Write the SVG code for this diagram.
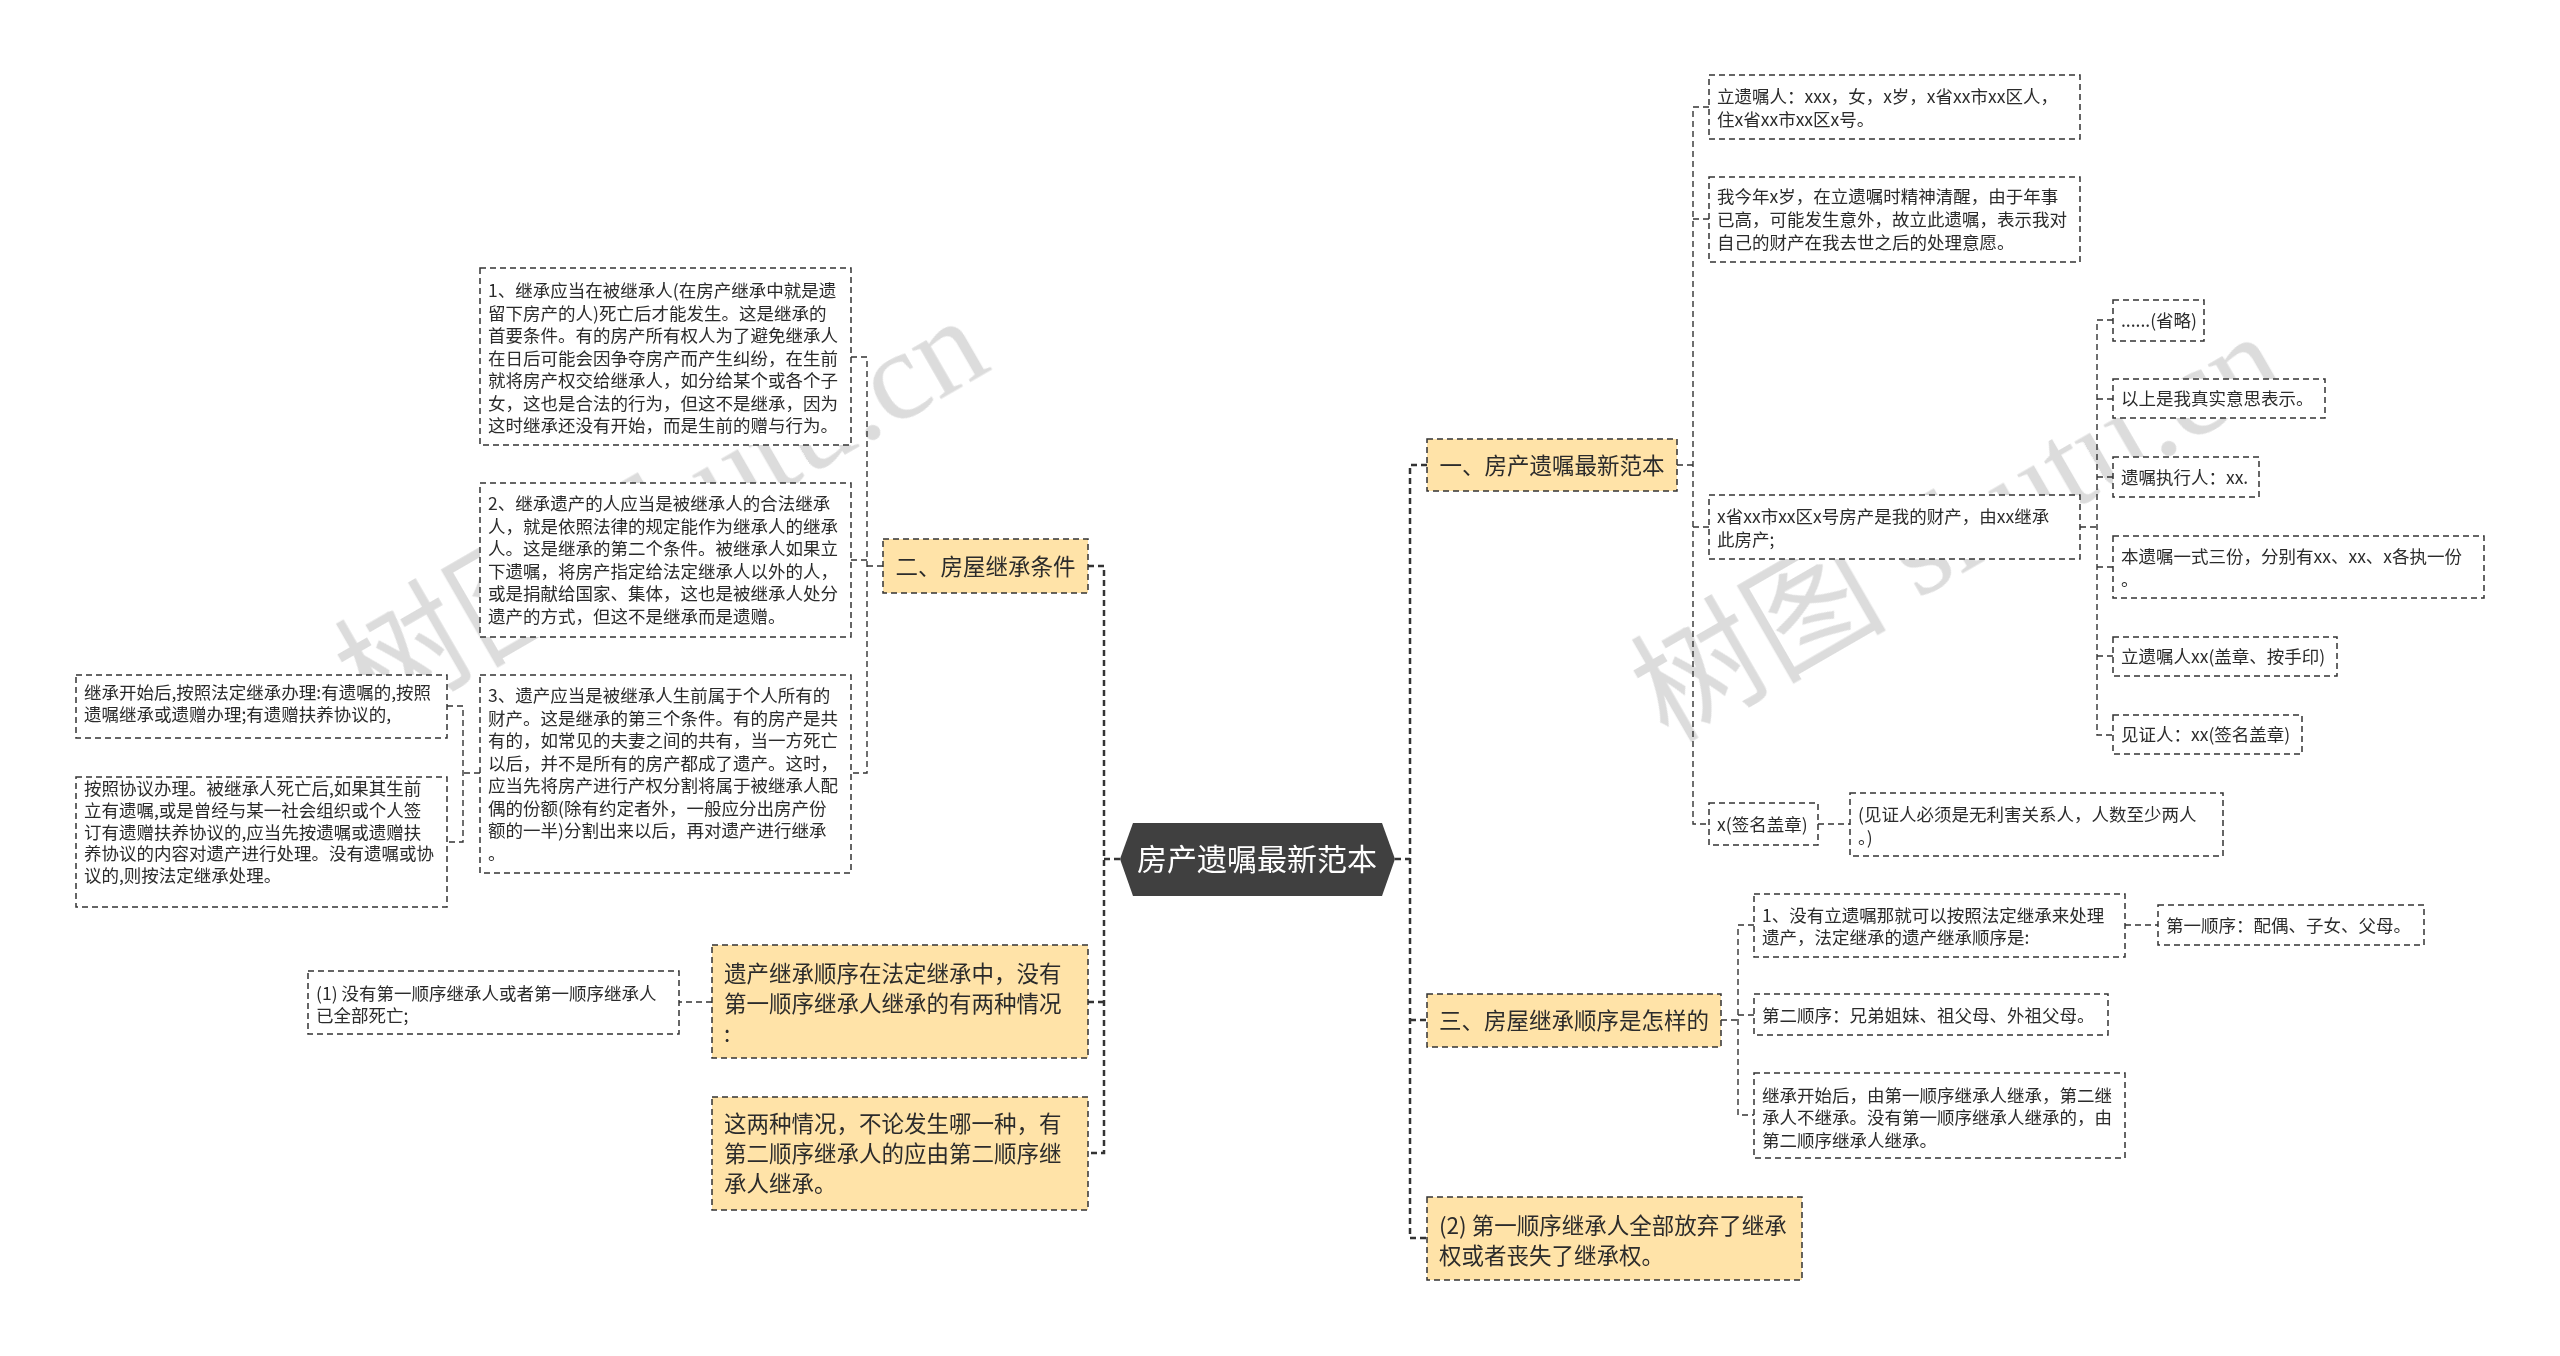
<svg xmlns="http://www.w3.org/2000/svg" width="2560" height="1356" viewBox="0 0 2560 1356">
<style>
.bg{fill:#ffffff}
.box{fill:#ffffff;stroke:#333333;stroke-width:1.5;stroke-dasharray:6 4}
.yel{fill:#FFE3A8;stroke:#333333;stroke-width:1.5;stroke-dasharray:6 4}
.t{font-family:"Noto Sans CJK SC","Noto Sans",sans-serif;font-size:17.5px;fill:#2b2b2b}
.ty{font-family:"Noto Sans CJK SC","Noto Sans",sans-serif;font-size:22.5px;fill:#2b2b2b}
.root{fill:#404040}
.rt{font-family:"Noto Sans CJK SC","Noto Sans",sans-serif;font-size:30px;fill:#ffffff}
.c1{fill:none;stroke:#333333;stroke-width:2.5;stroke-dasharray:6 4}
.c2{fill:none;stroke:#333333;stroke-width:1.4;stroke-dasharray:6 4}
.wm{font-family:"Liberation Serif","Noto Sans CJK SC",serif;font-size:128px;fill:#d6d6d6}
</style>
<rect class="bg" x="0" y="0" width="2560" height="1356"/>
<g id="watermarks" opacity="0.85">
<text class="wm" x="372" y="728" transform="rotate(-30 372 728)">树图 shutu.cn</text>
<text class="wm" x="1668" y="744" transform="rotate(-30 1668 744)">树图 shutu.cn</text>
</g>
<g id="connectors">
<path class="c1" d="M1120 859 H1104 M1088 566 H1104 V1153 H1088 M1088 1002 H1104"/>
<path class="c1" d="M1395 859 H1410 M1427 465 H1410 V1238 H1427 M1410 1020 H1427"/>
<path class="c2" d="M883 566 H867 M851 357 H867 V773 H851 M851 560 H867"/>
<path class="c2" d="M480 773 H463 M447 706 H463 V842 H447"/>
<path class="c2" d="M712 1002 H679"/>
<path class="c2" d="M1677 465 H1693 M1709 107 H1693 V824 H1709 M1693 219 H1709 M1693 527 H1709"/>
<path class="c2" d="M2080 527 H2097 M2113 320 H2097 V735 H2113 M2097 399 H2113 M2097 477 H2113 M2097 567 H2113 M2097 656 H2113"/>
<path class="c2" d="M1818 824 H1850"/>
<path class="c2" d="M1721 1020 H1738 M1754 925 H1738 V1115 H1754 M1738 1015 H1754"/>
<path class="c2" d="M2125 925 H2158"/>
</g>
<g id="root">
<polygon class="root" points="1120,859 1133,823 1382,823 1395,859 1382,896 1133,896"/>
<text class="rt" x="1257" y="870" text-anchor="middle">房产遗嘱最新范本</text>
</g>
<g id="n-er">
<rect class="yel" x="883" y="539" width="205" height="54"/>
<text class="ty" x="985.5" y="574.5" text-anchor="middle">二、房屋继承条件</text>
</g>
<g id="n-cond1">
<rect class="box" x="480" y="268" width="371" height="177"/>
<text class="t" x="488" y="297">
<tspan x="488">1、继承应当在被继承人(在房产继承中就是遗</tspan>
<tspan x="488" dy="22.5">留下房产的人)死亡后才能发生。这是继承的</tspan>
<tspan x="488" dy="22.5">首要条件。有的房产所有权人为了避免继承人</tspan>
<tspan x="488" dy="22.5">在日后可能会因争夺房产而产生纠纷，在生前</tspan>
<tspan x="488" dy="22.5">就将房产权交给继承人，如分给某个或各个子</tspan>
<tspan x="488" dy="22.5">女，这也是合法的行为，但这不是继承，因为</tspan>
<tspan x="488" dy="22.5">这时继承还没有开始，而是生前的赠与行为。</tspan>
</text>
</g>
<g id="n-cond2">
<rect class="box" x="480" y="483" width="371" height="154"/>
<text class="t" x="488" y="510">
<tspan x="488">2、继承遗产的人应当是被继承人的合法继承</tspan>
<tspan x="488" dy="22.5">人，就是依照法律的规定能作为继承人的继承</tspan>
<tspan x="488" dy="22.5">人。这是继承的第二个条件。被继承人如果立</tspan>
<tspan x="488" dy="22.5">下遗嘱，将房产指定给法定继承人以外的人，</tspan>
<tspan x="488" dy="22.5">或是捐献给国家、集体，这也是被继承人处分</tspan>
<tspan x="488" dy="22.5">遗产的方式，但这不是继承而是遗赠。</tspan>
</text>
</g>
<g id="n-cond3">
<rect class="box" x="480" y="675" width="371" height="198"/>
<text class="t" x="488" y="702">
<tspan x="488">3、遗产应当是被继承人生前属于个人所有的</tspan>
<tspan x="488" dy="22.5">财产。这是继承的第三个条件。有的房产是共</tspan>
<tspan x="488" dy="22.5">有的，如常见的夫妻之间的共有，当一方死亡</tspan>
<tspan x="488" dy="22.5">以后，并不是所有的房产都成了遗产。这时，</tspan>
<tspan x="488" dy="22.5">应当先将房产进行产权分割将属于被继承人配</tspan>
<tspan x="488" dy="22.5">偶的份额(除有约定者外，一般应分出房产份</tspan>
<tspan x="488" dy="22.5">额的一半)分割出来以后，再对遗产进行继承</tspan>
<tspan x="488" dy="22.5">。</tspan>
</text>
</g>
<g id="n-a">
<rect class="box" x="76" y="675" width="371" height="63"/>
<text class="t" x="84" y="699">
<tspan x="84">继承开始后,按照法定继承办理:有遗嘱的,按照</tspan>
<tspan x="84" dy="22">遗嘱继承或遗赠办理;有遗赠扶养协议的,</tspan>
</text>
</g>
<g id="n-b">
<rect class="box" x="76" y="777" width="371" height="130"/>
<text class="t" x="84" y="795">
<tspan x="84">按照协议办理。被继承人死亡后,如果其生前</tspan>
<tspan x="84" dy="21.8">立有遗嘱,或是曾经与某一社会组织或个人签</tspan>
<tspan x="84" dy="21.8">订有遗赠扶养协议的,应当先按遗嘱或遗赠扶</tspan>
<tspan x="84" dy="21.8">养协议的内容对遗产进行处理。没有遗嘱或协</tspan>
<tspan x="84" dy="21.8">议的,则按法定继承处理。</tspan>
</text>
</g>
<g id="n-order">
<rect class="yel" x="712" y="945" width="376" height="113"/>
<text class="ty" x="724" y="981.5">
<tspan x="724">遗产继承顺序在法定继承中，没有</tspan>
<tspan x="724" dy="30">第一顺序继承人继承的有两种情况</tspan>
<tspan x="724" dy="30">:</tspan>
</text>
</g>
<g id="n-one">
<rect class="box" x="308" y="971" width="371" height="63"/>
<text class="t" x="316" y="1000">
<tspan x="316">(1) 没有第一顺序继承人或者第一顺序继承人</tspan>
<tspan x="316" dy="22">已全部死亡;</tspan>
</text>
</g>
<g id="n-two-cases">
<rect class="yel" x="712" y="1097" width="376" height="113"/>
<text class="ty" x="724" y="1131.5">
<tspan x="724">这两种情况，不论发生哪一种，有</tspan>
<tspan x="724" dy="30">第二顺序继承人的应由第二顺序继</tspan>
<tspan x="724" dy="30">承人继承。</tspan>
</text>
</g>
<g id="n-yi">
<rect class="yel" x="1427" y="439" width="250" height="52"/>
<text class="ty" x="1552" y="473.5" text-anchor="middle">一、房产遗嘱最新范本</text>
</g>
<g id="n-c1">
<rect class="box" x="1709" y="75" width="371" height="64"/>
<text class="t" x="1717" y="103">
<tspan x="1717">立遗嘱人：xxx，女，x岁，x省xx市xx区人，</tspan>
<tspan x="1717" dy="23">住x省xx市xx区x号。</tspan>
</text>
</g>
<g id="n-c2">
<rect class="box" x="1709" y="177" width="371" height="85"/>
<text class="t" x="1717" y="203">
<tspan x="1717">我今年x岁，在立遗嘱时精神清醒，由于年事</tspan>
<tspan x="1717" dy="23">已高，可能发生意外，故立此遗嘱，表示我对</tspan>
<tspan x="1717" dy="23">自己的财产在我去世之后的处理意愿。</tspan>
</text>
</g>
<g id="n-c3">
<rect class="box" x="1709" y="495" width="371" height="64"/>
<text class="t" x="1717" y="523">
<tspan x="1717">x省xx市xx区x号房产是我的财产，由xx继承</tspan>
<tspan x="1717" dy="23">此房产;</tspan>
</text>
</g>
<g id="n-d1">
<rect class="box" x="2113" y="300" width="91" height="41"/>
<text class="t" x="2121" y="327">......(省略)</text>
</g>
<g id="n-d2">
<rect class="box" x="2113" y="379" width="212" height="39"/>
<text class="t" x="2121" y="405">以上是我真实意思表示。</text>
</g>
<g id="n-d3">
<rect class="box" x="2113" y="457" width="146" height="40"/>
<text class="t" x="2121" y="483.5">遗嘱执行人：xx.</text>
</g>
<g id="n-d4">
<rect class="box" x="2113" y="536" width="371" height="62"/>
<text class="t" x="2121" y="563">
<tspan x="2121">本遗嘱一式三份，分别有xx、xx、x各执一份</tspan>
<tspan x="2121" dy="23">。</tspan>
</text>
</g>
<g id="n-d5">
<rect class="box" x="2113" y="637" width="224" height="39"/>
<text class="t" x="2121" y="663">立遗嘱人xx(盖章、按手印)</text>
</g>
<g id="n-d6">
<rect class="box" x="2113" y="715" width="189" height="39"/>
<text class="t" x="2121" y="741">见证人：xx(签名盖章)</text>
</g>
<g id="n-c4">
<rect class="box" x="1709" y="803" width="109" height="42"/>
<text class="t" x="1717" y="830.5">x(签名盖章)</text>
</g>
<g id="n-c4child">
<rect class="box" x="1850" y="793" width="373" height="63"/>
<text class="t" x="1858" y="821">
<tspan x="1858">(见证人必须是无利害关系人，人数至少两人</tspan>
<tspan x="1858" dy="23">。)</tspan>
</text>
</g>
<g id="n-san">
<rect class="yel" x="1427" y="994" width="294" height="53"/>
<text class="ty" x="1574" y="1029" text-anchor="middle">三、房屋继承顺序是怎样的</text>
</g>
<g id="n-e1">
<rect class="box" x="1754" y="894" width="371" height="63"/>
<text class="t" x="1762" y="921.5">
<tspan x="1762">1、没有立遗嘱那就可以按照法定继承来处理</tspan>
<tspan x="1762" dy="22.5">遗产，法定继承的遗产继承顺序是:</tspan>
</text>
</g>
<g id="n-e1child">
<rect class="box" x="2158" y="905" width="266" height="40"/>
<text class="t" x="2166" y="931.5">第一顺序：配偶、子女、父母。</text>
</g>
<g id="n-e2">
<rect class="box" x="1754" y="994" width="354" height="41"/>
<text class="t" x="1762" y="1021.5">第二顺序：兄弟姐妹、祖父母、外祖父母。</text>
</g>
<g id="n-e3">
<rect class="box" x="1754" y="1073" width="371" height="85"/>
<text class="t" x="1762" y="1101.5">
<tspan x="1762">继承开始后，由第一顺序继承人继承，第二继</tspan>
<tspan x="1762" dy="22.5">承人不继承。没有第一顺序继承人继承的，由</tspan>
<tspan x="1762" dy="22.5">第二顺序继承人继承。</tspan>
</text>
</g>
<g id="n-two">
<rect class="yel" x="1427" y="1197" width="375" height="83"/>
<text class="ty" x="1439" y="1233.5">
<tspan x="1439">(2) 第一顺序继承人全部放弃了继承</tspan>
<tspan x="1439" dy="30">权或者丧失了继承权。</tspan>
</text>
</g>
</svg>
